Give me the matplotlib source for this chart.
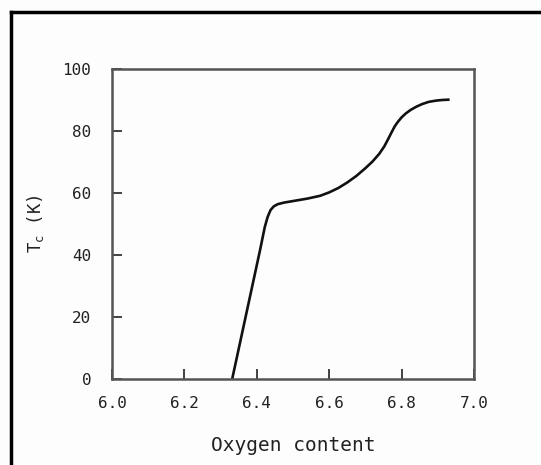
import numpy as np
import matplotlib
matplotlib.use("Agg")
import matplotlib.pyplot as plt
from matplotlib.lines import Line2D

plt.rcParams["font.family"] = "DejaVu Sans Mono"
plt.rcParams["mathtext.default"] = "regular"

# Tc vs oxygen content
oxygen = [6.332, 6.409, 6.422, 6.430, 6.438, 6.447, 6.458, 6.475, 6.50, 6.54,
          6.575, 6.60, 6.625, 6.65, 6.675, 6.70, 6.72, 6.738, 6.752, 6.762,
          6.772, 6.781, 6.790, 6.800, 6.812, 6.825, 6.840, 6.857, 6.875, 6.895,
          6.912, 6.929]
tc = [0, 41.6, 49.0, 52.3, 54.5, 55.7, 56.4, 56.9, 57.4, 58.2,
      59.1, 60.2, 61.6, 63.4, 65.5, 68.0, 70.2, 72.6, 75.0, 77.2,
      79.5, 81.5, 83.0, 84.4, 85.7, 86.8, 87.8, 88.7, 89.4, 89.8,
      90.0, 90.1]

x_ticks = [6.0, 6.2, 6.4, 6.6, 6.8, 7.0]
y_ticks = [0, 20, 40, 60, 80, 100]

W, H = 541, 465
fig = plt.figure(figsize=(W / 100, H / 100), dpi=100)
fig.patch.set_facecolor("#fdfdfd")

ax = fig.add_axes([112 / W, 1 - 379 / H, 362 / W, 310 / H])
ax.set_facecolor("#fdfdfd")
ax.plot(oxygen, tc, color="#111111", lw=1.9, solid_joinstyle="round")

ax.set_xlim(6.0, 7.0)
ax.set_ylim(0, 100)
ax.set_xticks(x_ticks)
ax.set_yticks(y_ticks)
ax.set_xticklabels([f"{v:.1f}" for v in x_ticks])
ax.set_yticklabels([str(v) for v in y_ticks])
ax.tick_params(direction="in", length=7, width=1.3, color="#333333",
               labelsize=11.5, labelcolor="#222222")
ax.tick_params(axis="x", pad=12)
ax.tick_params(axis="y", pad=15)
for s in ax.spines.values():
    s.set_color("#555555")
    s.set_linewidth(1.8)

ax.set_xlabel("Oxygen content", fontsize=14, color="#222222", va="center")
ax.xaxis.set_label_coords(0.5, (379 - 445) / 310)
ax.set_ylabel("T$_c$ (K)", fontsize=12.5, color="#222222", va="center")
ax.yaxis.set_label_coords((35 - 112) / 362, 0.5)

# scanned page frame (left and top edges)
fig.add_artist(Line2D([11 / W, 11 / W], [0, 1 - 12 / H], transform=fig.transFigure,
                      color="black", lw=2.5))
fig.add_artist(Line2D([11 / W, 1], [1 - 12 / H, 1 - 12 / H], transform=fig.transFigure,
                      color="black", lw=2.5))

fig.savefig("out.png", dpi=100, facecolor=fig.get_facecolor())
